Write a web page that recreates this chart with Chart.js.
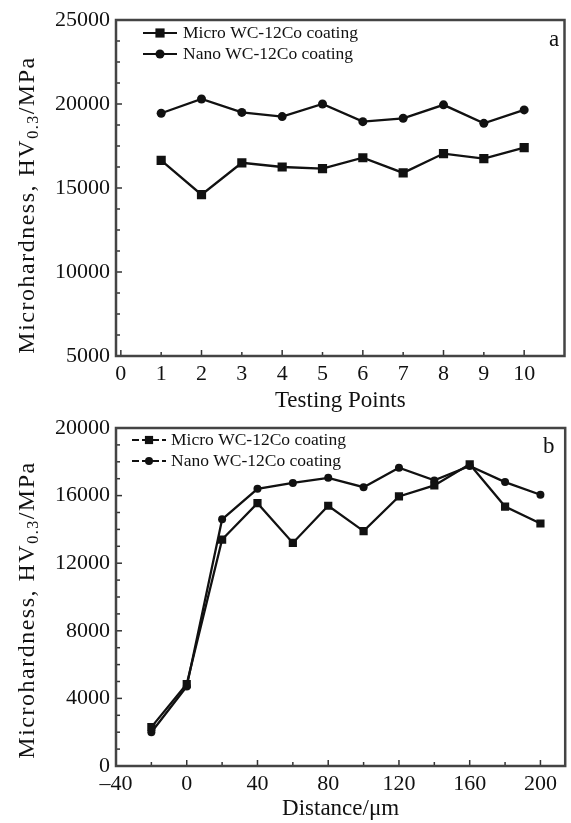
<!DOCTYPE html>
<html>
<head>
<meta charset="utf-8">
<script src="https://cdn.jsdelivr.net/npm/chart.js"></script>
<style>
  body { margin: 0; background: #fff; }
  .panel { position: absolute; left: 0; width: 571px; }
</style>
</head>
<body>
<div class="panel" style="top:0;height:418px"><canvas id="chartA" width="571" height="418"></canvas></div>
<div class="panel" style="top:408px;height:415px"><canvas id="chartB" width="571" height="415"></canvas></div>
<script>
// panel a: hardness at the testing points
const testPoints = [1, 2, 3, 4, 5, 6, 7, 8, 9, 10];
const microA = [16650, 14600, 16500, 16250, 16150, 16800, 15900, 17050, 16750, 17400];
const nanoA = [19450, 20300, 19500, 19250, 20000, 18950, 19150, 19950, 18850, 19650];

// panel b: hardness profile over distance
const distance = [-20, 0, 20, 40, 60, 80, 100, 120, 140, 160, 180, 200];
const microB = [2300, 4850, 13400, 15550, 13200, 15400, 13900, 15950, 16600, 17850, 15350, 14350];
const nanoB = [2000, 4700, 14600, 16400, 16750, 17050, 16500, 17650, 16900, 17750, 16800, 16050];

const seriesNames = ['Micro WC-12Co coating', 'Nano WC-12Co coating'];
const yTitle = ['Microhardness, HV', '0.3', '/MPa'];

const SERIF = '"Liberation Serif", "Times New Roman", serif';
const INK = '#111';
Chart.defaults.font.family = SERIF;
Chart.defaults.color = INK;

function pts(xs, ys) {
  return xs.map((x, i) => ({ x: x, y: ys[i] }));
}

function drawMarker(ctx, style, r, x, y) {
  ctx.beginPath();
  if (style === 'rect') {
    const s = r * Math.SQRT1_2;
    ctx.rect(x - s, y - s, 2 * s, 2 * s);
  } else {
    ctx.arc(x, y, r, 0, Math.PI * 2);
  }
  ctx.fill();
}

// frame, inward ticks, y title with subscript, legend and panel letter
const decor = {
  id: 'decor',
  afterDraw(chart, args, o) {
    const ctx = chart.ctx;
    const a = chart.chartArea;
    const xs = chart.scales.x, ys = chart.scales.y;
    ctx.save();

    // inward tick marks
    ctx.strokeStyle = '#333';
    ctx.lineWidth = 1.5;
    xs.ticks.forEach(t => {
      if (t.value < o.xFrom || t.value > o.xTo) return;
      const px = xs.getPixelForValue(t.value);
      const len = o.xMajor(t.value) ? 6 : 4;
      ctx.beginPath();
      ctx.moveTo(px, a.bottom);
      ctx.lineTo(px, a.bottom - len);
      ctx.stroke();
    });
    ys.ticks.forEach(t => {
      const py = ys.getPixelForValue(t.value);
      const len = o.yMajor(t.value) ? 6 : 4;
      ctx.beginPath();
      ctx.moveTo(a.left, py);
      ctx.lineTo(a.left + len, py);
      ctx.stroke();
    });

    // frame
    ctx.strokeStyle = '#444';
    ctx.lineWidth = 2.5;
    ctx.strokeRect(a.left, a.top, a.right - a.left, a.bottom - a.top);

    // y title with subscript
    ctx.fillStyle = INK;
    ctx.textBaseline = 'alphabetic';
    ctx.textAlign = 'left';
    ctx.letterSpacing = '1.5px';
    const big = '24px ' + SERIF, small = '16px ' + SERIF;
    ctx.font = big;
    const w1 = ctx.measureText(yTitle[0]).width;
    const w3 = ctx.measureText(yTitle[2]).width;
    ctx.font = small;
    const w2 = ctx.measureText(yTitle[1]).width;
    const total = w1 + w2 + w3;
    ctx.translate(o.titleX, o.titleY);
    ctx.rotate(-Math.PI / 2);
    let cx = -total / 2;
    ctx.font = big;
    ctx.fillText(yTitle[0], cx, 8);
    cx += w1;
    ctx.font = small;
    ctx.fillText(yTitle[1], cx, 12);
    cx += w2;
    ctx.font = big;
    ctx.fillText(yTitle[2], cx, 8);
    ctx.setTransform(1, 0, 0, 1, 0, 0);
    ctx.letterSpacing = '0px';

    // legend
    const lg = o.legend;
    chart.data.datasets.forEach((ds, i) => {
      const y = lg.rows[i];
      ctx.strokeStyle = INK;
      ctx.fillStyle = INK;
      ctx.lineWidth = 2;
      ctx.setLineDash(lg.dash);
      ctx.beginPath();
      ctx.moveTo(lg.x0, y);
      ctx.lineTo(lg.x1, y);
      ctx.stroke();
      ctx.setLineDash([]);
      drawMarker(ctx, ds.pointStyle, ds.pointRadius, (lg.x0 + lg.x1) / 2, y);
      ctx.font = '17.5px ' + SERIF;
      ctx.textBaseline = 'middle';
      ctx.fillText(ds.label, lg.textX, y);
    });

    // panel letter
    ctx.font = '23px ' + SERIF;
    ctx.fillText(o.letter, o.letterX, o.letterY);
    ctx.restore();
  }
};

function lineSet(label, data, style, r) {
  return {
    label: label,
    data: data,
    borderColor: INK,
    backgroundColor: INK,
    borderWidth: 2.3,
    pointStyle: style,
    pointRadius: r,
    pointHoverRadius: r,
    pointBorderWidth: 0,
    tension: 0
  };
}

function makeChart(id, sets, c) {
  return new Chart(document.getElementById(id), {
    type: 'line',
    data: { datasets: sets },
    options: {
      responsive: false,
      animation: false,
      layout: { padding: { top: c.padTop, right: 3, left: 0, bottom: 0 } },
      plugins: { legend: { display: false }, tooltip: { enabled: false }, decor: c.decor },
      scales: {
        x: {
          type: 'linear',
          min: c.xMin,
          max: c.xMax,
          grid: { display: false, drawTicks: false },
          border: { display: false },
          ticks: {
            stepSize: c.xStep,
            includeBounds: false,
            autoSkip: false,
            maxRotation: 0,
            maxTicksLimit: 100,
            padding: 5,
            font: { size: 22 },
            color: INK,
            callback: c.xLabel
          },
          title: {
            display: true,
            text: c.xTitle,
            font: { size: 23 },
            color: INK,
            padding: { top: 0, bottom: c.titlePad }
          },
          afterFit: s => { s.height = c.xHeight; }
        },
        y: {
          min: c.yMin,
          max: c.yMax,
          grid: { display: false, drawTicks: false },
          border: { display: false },
          ticks: {
            stepSize: c.yStep,
            includeBounds: false,
            autoSkip: false,
            maxTicksLimit: 100,
            padding: 6,
            font: { size: 22 },
            color: INK,
            callback: c.yLabel
          },
          afterFit: s => { s.width = 116; }
        }
      }
    },
    plugins: [decor]
  });
}

makeChart('chartA', [
  lineSet(seriesNames[0], pts(testPoints, microA), 'rect', 6.5),
  lineSet(seriesNames[1], pts(testPoints, nanoA), 'circle', 4.5)
], {
  padTop: 20, xHeight: 62, titlePad: 3,
  xMin: -0.12, xMax: 11, xStep: 1,
  yMin: 5000, yMax: 25000, yStep: 1250,
  xTitle: 'Testing Points',
  xLabel: v => (Number.isInteger(v) && v >= 0 && v <= 10) ? String(v) : '',
  yLabel: v => (v % 5000 === 0) ? String(v) : '',
  decor: {
    xFrom: 0, xTo: 10,
    xMajor: v => v % 2 === 0,
    yMajor: v => v % 5000 === 0,
    titleX: 26, titleY: 205,
    legend: { rows: [33, 54], x0: 143, x1: 177, textX: 183, dash: [] },
    letter: 'a', letterX: 549, letterY: 40
  }
});

makeChart('chartB', [
  lineSet(seriesNames[0], pts(distance, microB), 'rect', 5.8),
  lineSet(seriesNames[1], pts(distance, nanoB), 'circle', 4)
], {
  padTop: 20, xHeight: 57, titlePad: 0,
  xMin: -40, xMax: 214, xStep: 20,
  yMin: 0, yMax: 20000, yStep: 1000,
  xTitle: 'Distance/\u03bcm',
  xLabel: v => (v % 40 === 0 && v <= 200) ? (v < 0 ? '\u2013' + Math.abs(v) : String(v)) : '',
  yLabel: v => (v % 4000 === 0) ? String(v) : '',
  decor: {
    xFrom: -40, xTo: 200,
    xMajor: v => v % 40 === 0,
    yMajor: v => v % 4000 === 0,
    titleX: 26, titleY: 202,
    legend: { rows: [32, 53], x0: 132, x1: 166, textX: 171, dash: [7, 3] },
    letter: 'b', letterX: 543, letterY: 39
  }
});
</script>
</body>
</html>
